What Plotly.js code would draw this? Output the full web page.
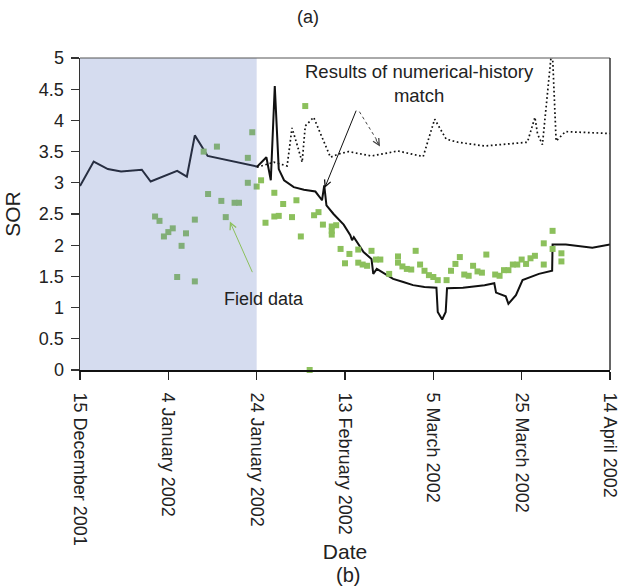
<!DOCTYPE html>
<html>
<head>
<meta charset="utf-8">
<script src="https://cdn.plot.ly/plotly-3.0.1.min.js"></script>
<style>html,body{margin:0;padding:0;background:#fff;}#chart{width:619px;height:588px;}</style>
</head>
<body>
<div id="chart"></div>
<script>
// ---- data (days counted from 15 December 2001) ----
var START_DATE = '2001-12-15';
var historyPeriodEndDay = 40; // 24 January 2002

var simDays = [0,3.1,6.3,9.3,14,16,22,24.2,26,28.9,40.1,42.2,43.2,44.1,45,46.2,48.4,50.7,53.3,54.8,55.3,55.8,57.4,59.7,61.2,61.6,62,63,64.2,66,66.4,67.2,69,70.9,73.2,75.4,78,80.7,81,82,82.8,83.1,86.7,91.6,93.8,94.2,96.4,97,98.7,100.2,103.9,106.9,107,110,116,120];
var simSOR  = [2.95,3.34,3.22,3.18,3.21,3.02,3.19,3.10,3.76,3.43,3.26,3.41,3.04,4.55,3.22,3.04,2.93,2.89,2.86,2.72,2.96,2.64,2.50,2.33,2.16,2.08,2.13,2.02,1.89,1.78,1.54,1.62,1.54,1.46,1.41,1.36,1.33,1.32,0.93,0.81,0.93,1.31,1.32,1.36,1.39,1.24,1.18,1.06,1.20,1.44,1.54,1.59,2.01,2.01,1.96,2.01];

var predDays = [40.1,43.9,46.9,48.0,49.2,50.3,51.0,52.9,56.7,58.5,60.8,66.0,72.0,77.7,80.3,82.9,85.6,91.6,101.3,103.0,103.6,104.7,106.9,107.8,109.9,120];
var predSOR  = [3.25,3.33,3.27,3.88,3.60,3.33,3.91,4.05,3.41,3.46,3.50,3.43,3.51,3.42,4.02,3.70,3.65,3.59,3.65,4.05,3.78,3.61,5.2,3.67,3.82,3.79];

var fieldDays = [17,18,19,20,21,22,23,24,26,26,28,29,31,32,33,35,36,38,38,39,40,41,42,44,44,45,46,48,49,50,51,52,53,54,55,57,58,57,57,59,60,61,63,63,64,65,66,67,68,70,72,72,73,74,75,76,77,78,79,80,81,83,84,85,86,87,88,89,90,91,92,94,95,96,97,98,99,100,101,102,103,105,105,107,107,109,109];
var fieldSOR  = [2.46,2.39,2.14,2.21,2.27,1.49,1.99,2.19,2.41,1.42,3.50,2.82,3.58,2.71,2.45,2.68,2.68,3.40,3.00,3.81,2.94,3.04,2.36,2.84,2.46,2.47,2.66,2.45,2.72,2.14,4.23,0,2.48,2.53,2.33,2.30,2.32,2.23,2.17,1.94,1.71,1.86,1.93,1.72,1.69,1.67,1.91,1.77,1.77,1.54,1.82,1.72,1.66,1.62,1.61,1.91,1.69,1.59,1.52,1.49,1.44,1.44,1.59,1.70,1.81,1.53,1.51,1.67,1.58,1.56,1.85,1.53,1.51,1.60,1.60,1.69,1.69,1.77,1.70,1.79,1.83,1.69,2.03,2.23,1.94,1.87,1.74];

var tickDays   = [0,20,40,60,80,100,120];
var tickLabels = ['15 December 2001','4 January 2002','24 January 2002','13 February 2002','5 March 2002','25 March 2002','14 April 2002'];

// ---- helpers ----
function toDate(d){
  var p = START_DATE.split('-');
  var t = Date.UTC(+p[0], +p[1]-1, +p[2]) + d*86400000;
  return new Date(t).toISOString().replace('T',' ').slice(0,19);
}
function toDates(arr){ return arr.map(toDate); }

var FONT = 'Liberation Sans, Arial, Helvetica, sans-serif';
var TXT = '#222';
var GREEN = '#8cc05c';

var traces = [
  {
    type:'scatter', mode:'lines', name:'Numerical history match',
    x: toDates(simDays), y: simSOR,
    line:{color:'#111', width:2}
  },
  {
    type:'scatter', mode:'lines', name:'Prediction',
    x: toDates(predDays), y: predSOR,
    line:{color:'#111', width:1.7, dash:'1.7px,2.6px'}
  },
  {
    type:'scatter', mode:'markers', name:'Field data',
    x: toDates(fieldDays), y: fieldSOR,
    marker:{symbol:'square', size:6, color:GREEN, line:{width:0}},
    cliponaxis:false
  }
];

var layout = {
  width:619, height:588,
  margin:{l:80, r:9, t:58, b:218, pad:0},
  paper_bgcolor:'#fff', plot_bgcolor:'#fff',
  showlegend:false,
  font:{family:FONT, color:TXT, size:18},
  xaxis:{
    type:'date',
    range:[toDate(0), toDate(120)],
    tickmode:'array',
    tickvals: toDates(tickDays),
    ticktext: tickLabels,
    tickangle:90,
    ticklabeloverflow:'allow',
    ticklabelstandoff:9,
    ticks:'outside', ticklen:8, tickwidth:1.2, tickcolor:'#222',
    tickfont:{family:FONT, size:18, color:TXT},
    showline:true, linecolor:'#111', linewidth:2,
    showgrid:false, zeroline:false,
    title:{text:'Date', font:{family:FONT, size:21, color:TXT}, standoff:0}
  },
  yaxis:{
    range:[0,5], tick0:0, dtick:0.5,
    ticks:'outside', ticklen:8, tickwidth:1.2, tickcolor:'#333',
    ticklabelstandoff:3,
    tickfont:{family:FONT, size:18, color:TXT},
    showline:true, linecolor:'#333', linewidth:1.5,
    showgrid:false, zeroline:false,
    title:{text:'SOR', font:{family:FONT, size:21, color:TXT}, standoff:12}
  },
  shapes:[
    {type:'rect', xref:'x', yref:'y', x0:toDate(0), x1:toDate(historyPeriodEndDay), y0:0, y1:5,
     fillcolor:'rgba(100,125,195,0.27)', line:{width:0}, layer:'above'},
    {type:'line', xref:'paper', yref:'paper', x0:0, x1:1, y0:1, y1:1, line:{color:'#555', width:1}},
    {type:'line', xref:'paper', yref:'paper', x0:1, x1:1, y0:0, y1:1, line:{color:'#333', width:1.5}},
    {type:'line', xref:'x', yref:'y', x0:toDate(63.26), y0:4.14, x1:toDate(67.6), y1:3.64,
     line:{color:'#444', width:1, dash:'dot'}}
  ],
  annotations:[
    {xref:'paper', yref:'paper', x:0.4296, y:1.131, text:'(a)', showarrow:false,
     font:{family:FONT, size:18, color:TXT}, xanchor:'center', yanchor:'middle'},
    {xref:'paper', yref:'paper', x:0.505, y:-0.658, text:'(b)', showarrow:false,
     font:{family:FONT, size:20, color:TXT}, xanchor:'center', yanchor:'middle'},
    {xref:'x', yref:'y', x:toDate(76.9), y:4.585, text:'Results of numerical-history<br>match',
     showarrow:false, align:'center', xanchor:'center', yanchor:'middle',
     font:{family:FONT, size:18.5, color:TXT}},
    {xref:'x', yref:'y', x:toDate(41.65), y:1.13, text:'Field data', showarrow:false,
     xanchor:'center', yanchor:'middle', font:{family:FONT, size:18, color:TXT}},
    {xref:'x', yref:'y', x:toDate(55.38), y:2.915, axref:'x', ayref:'y', ax:toDate(62.66), ay:4.18,
     text:'', showarrow:true, arrowhead:5, arrowsize:1.3, arrowwidth:1, arrowcolor:'#111'},
    {xref:'x', yref:'y', x:toDate(67.92), y:3.58, ax:-5, ay:-8.5,
     text:'', showarrow:true, arrowhead:5, arrowsize:1.3, arrowwidth:1, arrowcolor:'#444'},
    {xref:'x', yref:'y', x:toDate(33.93), y:2.38, axref:'x', ayref:'y', ax:toDate(39.17), ay:1.544,
     text:'', showarrow:true, arrowhead:5, arrowsize:1.3, arrowwidth:1, arrowcolor:GREEN}
  ]
};

Plotly.newPlot('chart', traces, layout, {displayModeBar:false, staticPlot:true});
</script>
</body>
</html>
